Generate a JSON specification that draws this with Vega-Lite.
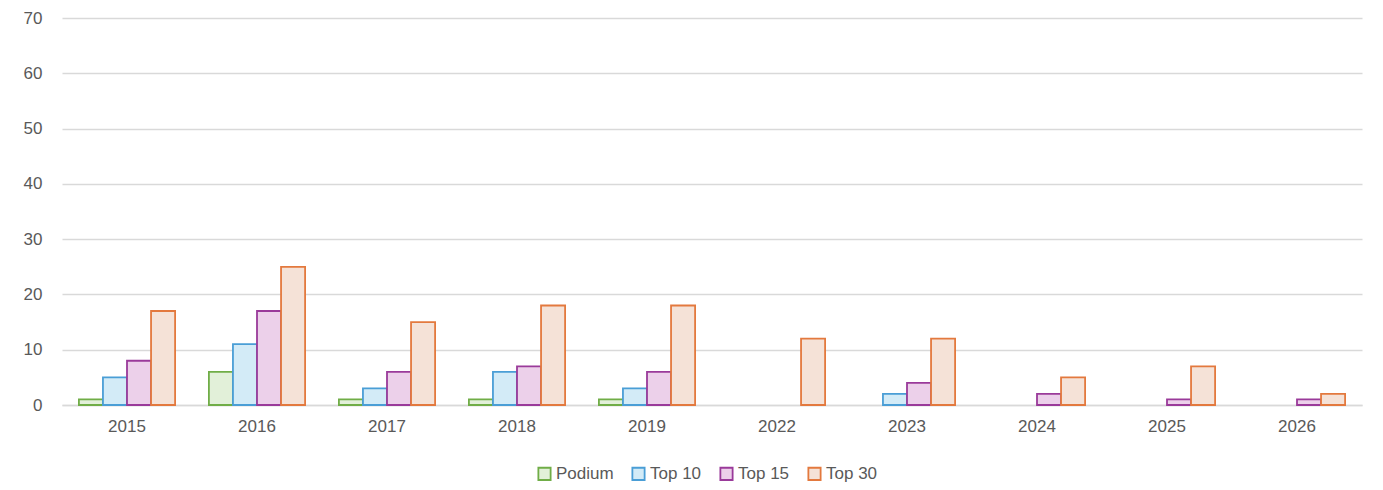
{
  "$schema": "https://vega.github.io/schema/vega-lite/v6.json",
  "width": 1300,
  "height": 387,
  "autosize": {"type": "none"},
  "padding": {"left": 62, "top": 18, "right": 21, "bottom": 85},
  "background": "white",
  "config": {
    "view": {"stroke": null},
    "font": "Liberation Sans",
    "axis": {"labelFont": "Liberation Sans", "labelFontSize": 17, "labelColor": "#595959"},
    "legend": {"labelFont": "Liberation Sans", "labelFontSize": 17, "labelColor": "#595959"}
  },
  "data": {
    "values": [
      {"year": "2015", "series": "Podium", "value": 1},
      {"year": "2015", "series": "Top 10", "value": 5},
      {"year": "2015", "series": "Top 15", "value": 8},
      {"year": "2015", "series": "Top 30", "value": 17},
      {"year": "2016", "series": "Podium", "value": 6},
      {"year": "2016", "series": "Top 10", "value": 11},
      {"year": "2016", "series": "Top 15", "value": 17},
      {"year": "2016", "series": "Top 30", "value": 25},
      {"year": "2017", "series": "Podium", "value": 1},
      {"year": "2017", "series": "Top 10", "value": 3},
      {"year": "2017", "series": "Top 15", "value": 6},
      {"year": "2017", "series": "Top 30", "value": 15},
      {"year": "2018", "series": "Podium", "value": 1},
      {"year": "2018", "series": "Top 10", "value": 6},
      {"year": "2018", "series": "Top 15", "value": 7},
      {"year": "2018", "series": "Top 30", "value": 18},
      {"year": "2019", "series": "Podium", "value": 1},
      {"year": "2019", "series": "Top 10", "value": 3},
      {"year": "2019", "series": "Top 15", "value": 6},
      {"year": "2019", "series": "Top 30", "value": 18},
      {"year": "2022", "series": "Podium", "value": 0},
      {"year": "2022", "series": "Top 10", "value": 0},
      {"year": "2022", "series": "Top 15", "value": 0},
      {"year": "2022", "series": "Top 30", "value": 12},
      {"year": "2023", "series": "Podium", "value": 0},
      {"year": "2023", "series": "Top 10", "value": 2},
      {"year": "2023", "series": "Top 15", "value": 4},
      {"year": "2023", "series": "Top 30", "value": 12},
      {"year": "2024", "series": "Podium", "value": 0},
      {"year": "2024", "series": "Top 10", "value": 0},
      {"year": "2024", "series": "Top 15", "value": 2},
      {"year": "2024", "series": "Top 30", "value": 5},
      {"year": "2025", "series": "Podium", "value": 0},
      {"year": "2025", "series": "Top 10", "value": 0},
      {"year": "2025", "series": "Top 15", "value": 1},
      {"year": "2025", "series": "Top 30", "value": 7},
      {"year": "2026", "series": "Podium", "value": 0},
      {"year": "2026", "series": "Top 10", "value": 0},
      {"year": "2026", "series": "Top 15", "value": 1},
      {"year": "2026", "series": "Top 30", "value": 2}
    ]
  },
  "transform": [{"filter": "datum.value > 0"}],
  "mark": {"type": "bar", "strokeWidth": 1.8},
  "encoding": {
    "x": {
      "field": "year", "type": "nominal",
      "scale": {"domain": ["2015","2016","2017","2018","2019","2022","2023","2024","2025","2026"], "paddingInner": 0.26, "paddingOuter": 0.13},
      "axis": {"title": null, "labelAngle": 0, "ticks": false, "domainColor": "#D9D9D9", "domainWidth": 1.5, "labelPadding": 13}
    },
    "xOffset": {"field": "series", "type": "nominal", "scale": {"domain": ["Podium","Top 10","Top 15","Top 30"], "paddingInner": 0, "paddingOuter": 0}},
    "y": {
      "field": "value", "type": "quantitative",
      "scale": {"domain": [0, 70], "nice": false},
      "axis": {"title": null, "values": [0,10,20,30,40,50,60,70], "domain": false, "ticks": false, "gridColor": "#D9D9D9", "gridWidth": 1.5, "labelPadding": 20}
    },
    "fill": {
      "field": "series", "type": "nominal",
      "scale": {"domain": ["Podium","Top 10","Top 15","Top 30"], "range": ["#E2F0D9","#D3EBF7","#ECD0EA","#F5E2D7"]},
      "legend": {"title": null, "orient": "none", "legendX": 474, "legendY": 447, "direction": "horizontal", "symbolType": "square", "symbolSize": 150, "symbolStrokeWidth": 1.8, "labelOffset": 3, "columnPadding": 14}
    },
    "stroke": {
      "field": "series", "type": "nominal",
      "scale": {"domain": ["Podium","Top 10","Top 15","Top 30"], "range": ["#70AD47","#4A9ED6","#9A3A9A","#E3793E"]},
      "legend": {"title": null, "orient": "none", "legendX": 474, "legendY": 447, "direction": "horizontal", "symbolType": "square", "symbolSize": 150, "symbolStrokeWidth": 1.8, "labelOffset": 3, "columnPadding": 14}
    }
  }
}
